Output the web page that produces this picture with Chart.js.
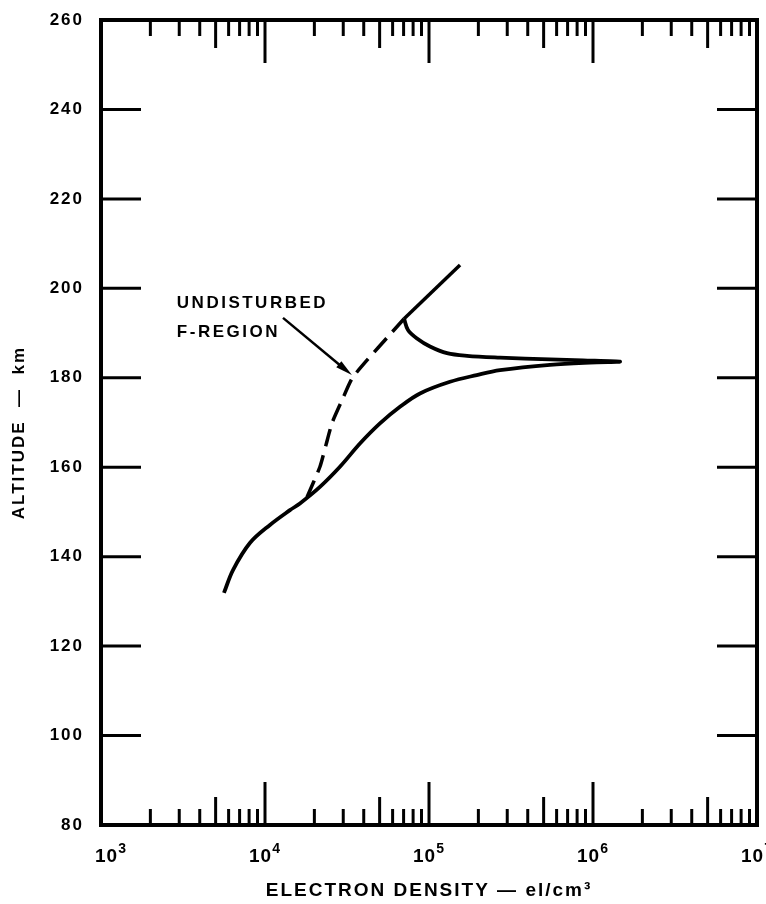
<!DOCTYPE html>
<html>
<head>
<meta charset="utf-8">
<script src="https://cdn.jsdelivr.net/npm/chart.js@4.4.1/dist/chart.umd.min.js"></script>
<style>
  html, body { margin: 0; padding: 0; background: #fff; }
</style>
</head>
<body>
<canvas id="chart" width="766" height="904"></canvas>
<script>
// values: electron density (el/cm3) vs altitude (km)
// disturbed profile: lower branch out to the tip, then back along the upper branch to the cusp
const disturbedDensity = [5620, 6380, 8110, 10720, 14190, 16330, 21630, 28640, 37930, 50230, 66530, 88100, 134300, 195400, 271000, 547000, 959000, 1462000,
  869000, 547000, 271000, 170600, 128800, 101400, 84500, 74450, 70470];
const disturbedAltitude = [131.9, 137.0, 143.1, 147.1, 150.4, 151.9, 155.6, 160.1, 165.3, 169.8, 173.5, 176.5, 179.1, 180.6, 181.7, 182.9, 183.4, 183.6,
  183.9, 184.1, 184.5, 184.9, 185.5, 187.0, 188.8, 190.7, 193.2];

// undisturbed F-region (dashed part, then solid above the cusp)
const undisturbedDashDensity = [18030, 21630, 23550, 25640, 29510, 34430, 70470];
const undisturbedDashAltitude = [153.3, 160.1, 165.0, 169.9, 175.0, 180.2, 193.2];
const undisturbedTopDensity = [70470, 154600];
const undisturbedTopAltitude = [193.2, 205.2];

const xTickValues = [1e3, 1e4, 1e5, 1e6, 1e7];
const xTickExponents = ["3", "4", "5", "6", "7"];
const yTickValues = [80, 100, 120, 140, 160, 180, 200, 220, 240, 260];
const minorSteps = [2, 3, 4, 5, 6, 7, 8, 9];

const FONT = "'Liberation Sans', Arial, 'DejaVu Sans', sans-serif";
const toPoints = (xs, ys) => xs.map((x, i) => ({ x: x, y: ys[i] }));

// frame, inward tick marks, power-of-ten labels, annotation and arrow
const framePlugin = {
  id: "frame",
  beforeDraw(chart) {
    chart.ctx.letterSpacing = "2px";
  },
  afterDatasetsDraw(chart) {
    const { ctx, chartArea: a, scales: { x, y } } = chart;
    const line = (x1, y1, x2, y2) => {
      ctx.beginPath(); ctx.moveTo(x1, y1); ctx.lineTo(x2, y2); ctx.stroke();
    };
    ctx.save();
    ctx.strokeStyle = "#000";
    ctx.fillStyle = "#000";
    ctx.lineWidth = 3;

    yTickValues.forEach(v => {
      const py = y.getPixelForValue(v);
      line(a.left, py, a.left + 40, py);
      line(a.right - 40, py, a.right, py);
    });

    xTickValues.forEach((d, i) => {
      const px = x.getPixelForValue(d);
      line(px, a.top, px, a.top + 43);
      line(px, a.bottom, px, a.bottom - 43);
      if (i === xTickValues.length - 1) return;
      minorSteps.forEach(m => {
        const mx = x.getPixelForValue(m * d);
        const len = m === 5 ? 28 : 16;
        line(mx, a.top, mx, a.top + len);
        line(mx, a.bottom, mx, a.bottom - len);
      });
    });

    ctx.lineWidth = 4;
    ctx.strokeRect(a.left, a.top, a.right - a.left, a.bottom - a.top);

    // x labels as 10 with a raised exponent
    ctx.letterSpacing = "1px";
    ctx.textAlign = "left";
    ctx.textBaseline = "alphabetic";
    xTickValues.forEach((v, i) => {
      const px = x.getPixelForValue(v) + (i === 0 ? 10 : 0);
      ctx.font = "bold 19px " + FONT;
      const w1 = ctx.measureText("10").width;
      ctx.font = "bold 14px " + FONT;
      const w2 = ctx.measureText(xTickExponents[i]).width;
      const left = px - (w1 + w2) / 2;
      ctx.font = "bold 19px " + FONT;
      ctx.fillText("10", left, a.bottom + 37);
      ctx.font = "bold 14px " + FONT;
      ctx.fillText(xTickExponents[i], left + w1, a.bottom + 28);
    });

    // annotation
    ctx.letterSpacing = "2.5px";
    ctx.font = "bold 17px " + FONT;
    ctx.textBaseline = "middle";
    const tx = x.getPixelForValue(2900);
    ctx.fillText("UNDISTURBED", tx, y.getPixelForValue(196.7));
    ctx.fillText("F-REGION", tx, y.getPixelForValue(190.2));

    const x1 = x.getPixelForValue(12880), y1 = y.getPixelForValue(193.4);
    const x2 = x.getPixelForValue(33880), y2 = y.getPixelForValue(180.6);
    const ang = Math.atan2(y2 - y1, x2 - x1);
    ctx.lineWidth = 2.5;
    line(x1, y1, x2 - 10 * Math.cos(ang), y2 - 10 * Math.sin(ang));
    ctx.beginPath();
    ctx.moveTo(x2, y2);
    ctx.lineTo(x2 - 17 * Math.cos(ang) + 4 * Math.sin(ang), y2 - 17 * Math.sin(ang) - 4 * Math.cos(ang));
    ctx.lineTo(x2 - 17 * Math.cos(ang) - 4 * Math.sin(ang), y2 - 17 * Math.sin(ang) + 4 * Math.cos(ang));
    ctx.closePath();
    ctx.fill();
    ctx.restore();
  }
};

new Chart(document.getElementById("chart"), {
  type: "scatter",
  data: {
    datasets: [
      {
        data: toPoints(disturbedDensity, disturbedAltitude),
        showLine: true, borderColor: "#000", borderWidth: 3.8,
        pointRadius: 0, tension: 0.35
      },
      {
        data: toPoints(undisturbedDashDensity, undisturbedDashAltitude),
        showLine: true, borderColor: "#000", borderWidth: 3.5, borderDash: [18, 9],
        pointRadius: 0, tension: 0.2
      },
      {
        data: toPoints(undisturbedTopDensity, undisturbedTopAltitude),
        showLine: true, borderColor: "#000", borderWidth: 3.5,
        pointRadius: 0, tension: 0
      }
    ]
  },
  options: {
    responsive: false,
    animation: false,
    layout: { padding: { top: 20, right: 9, left: 6, bottom: 2 } },
    plugins: { legend: { display: false }, tooltip: { enabled: false } },
    scales: {
      x: {
        type: "logarithmic", min: 1e3, max: 1e7,
        grid: { display: false, drawTicks: false },
        border: { display: false },
        afterBuildTicks: s => { s.ticks = xTickValues.map(v => ({ value: v })); },
        afterFit: s => { s.paddingLeft = 0; s.paddingRight = 0; s.height = 77; },
        ticks: { display: false },
        title: {
          display: true, text: "ELECTRON DENSITY — el/cm³", color: "#000",
          font: { family: FONT, size: 19, weight: "bold" }, padding: { top: 0, bottom: 0 }
        }
      },
      y: {
        min: 80, max: 260,
        grid: { display: false, drawTicks: false },
        border: { display: false },
        afterBuildTicks: s => { s.ticks = yTickValues.map(v => ({ value: v })); },
        afterFit: s => { s.paddingTop = 0; s.paddingBottom = 0; s.width = 95; },
        ticks: {
          color: "#000", font: { family: FONT, size: 17, weight: "bold" }, padding: 17
        },
        title: {
          display: true, text: "ALTITUDE  —  km   ", color: "#000",
          font: { family: FONT, size: 17, weight: "bold" }, padding: { top: 3, bottom: 0 }
        }
      }
    }
  },
  plugins: [framePlugin]
});
</script>
</body>
</html>
